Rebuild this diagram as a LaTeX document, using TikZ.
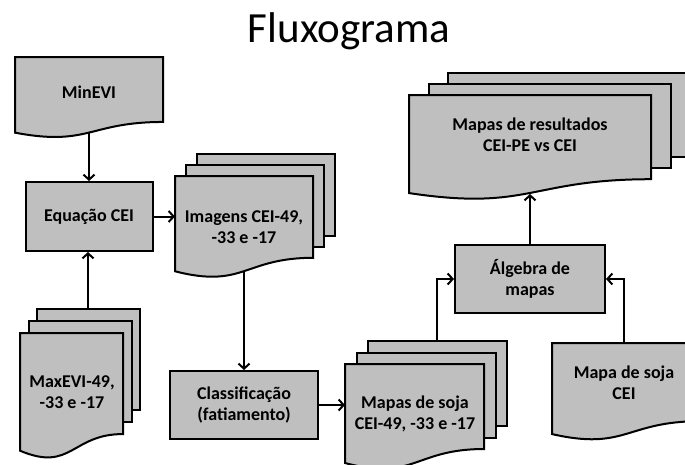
\documentclass[tikz,border=0pt]{standalone}
\usepackage{fontspec}
\setmainfont{Carlito}
\usetikzlibrary{positioning,arrows.meta}
\definecolor{boxgray}{RGB}{191,191,191}

\newcommand{\boxfont}{\fontsize{18}{21}\selectfont\bfseries}
\newcommand{\docsheet}[4]{%
  \filldraw[sheet] (#1,#2) -- (#3,#2) -- (#3,{#2+0.802*#4})
    .. controls ({(#1+#3)/2},{#2+0.802*#4}) and ({(#1+#3)/2},{#2+1.1075*#4}) .. (#1,{#2+0.934*#4}) -- cycle;}
\newcommand{\backsheet}[4]{\filldraw[sheet] (#1,#2) rectangle (#3,#4);}

\begin{document}
\begin{tikzpicture}[x=1pt, y=-1pt,
  sheet/.style={draw=black, fill=boxgray, line width=2pt},
  box/.style={draw=black, fill=boxgray, line width=2pt, align=center, font=\boxfont},
  doctext/.style={align=center, font=\boxfont},
  flow/.style={line width=2pt, -{Straight Barb[length=5pt,width=11pt]}}]
\useasboundingbox (0,0) rectangle (685,464);
\clip (0,0) rectangle (685,464);

\node[font=\fontsize{43}{50}\selectfont] (title) at (349,31) {Fluxograma};

\docsheet{15}{57}{163}{81}
\node[doctext] (minevi) at (89,92) {MinEVI};
\coordinate (minevi-out) at (89,133);

\node[box, minimum width=127pt, minimum height=69pt] (eqcei) at (89,216.5) {Equação CEI};

\backsheet{37}{309}{140}{410}
\backsheet{28.5}{321}{131.5}{422}
\docsheet{20}{333}{123}{126}
\node[doctext] (maxevi) at (72,392) {MaxEVI-49,\\-33 e -17};
\coordinate (maxevi-out) at (88,309);

\backsheet{197}{154}{335}{235.8}
\backsheet{186}{165}{324}{246.8}
\docsheet{175}{176}{313}{102}
\node[doctext] (imagens) at (244,227) {Imagens CEI-49,\\-33 e -17};
\coordinate (imagens-in) at (175,216.5);
\coordinate (imagens-out) at (244,271);

\node[box, minimum width=148pt, minimum height=68pt] (classif) at (244,405) {Classificação\\(fatiamento)};

\backsheet{368}{341}{507}{426}
\backsheet{356.5}{352.5}{495.5}{437.5}
\docsheet{345}{364}{484}{106}
\node[doctext] (soja) at (415,414) {Mapas de soja\\CEI-49, -33 e -17};
\coordinate (soja-in) at (345,405);
\coordinate (soja-out) at (437,341);

\node[box, minimum width=150pt, minimum height=68pt] (algebra) at (530,279) {Álgebra de\\mapas};

\docsheet{552}{343}{700}{97.5}
\node[doctext] (sojacei) at (624,383) {Mapa de soja\\CEI};
\coordinate (sojacei-out) at (624,343);

\backsheet{448}{73}{690}{157}
\backsheet{428.5}{84}{670.5}{168}
\docsheet{409}{95}{651}{105}
\node[doctext] (result) at (530,134.5) {Mapas de resultados\\CEI-PE vs CEI};
\coordinate (result-in) at (530,194);

\draw[flow] (minevi-out) -- (eqcei);
\draw[flow] (maxevi-out) -- (maxevi-out |- eqcei.south);
\draw[flow] (eqcei) -- (imagens-in);
\draw[flow] (imagens-out) -- (classif);
\draw[flow] (classif) -- (soja-in);
\draw[flow] (soja-out) |- (algebra);
\draw[flow] (sojacei-out) |- (algebra);
\draw[flow] (algebra) -- (result-in);
\end{tikzpicture}
\end{document}
